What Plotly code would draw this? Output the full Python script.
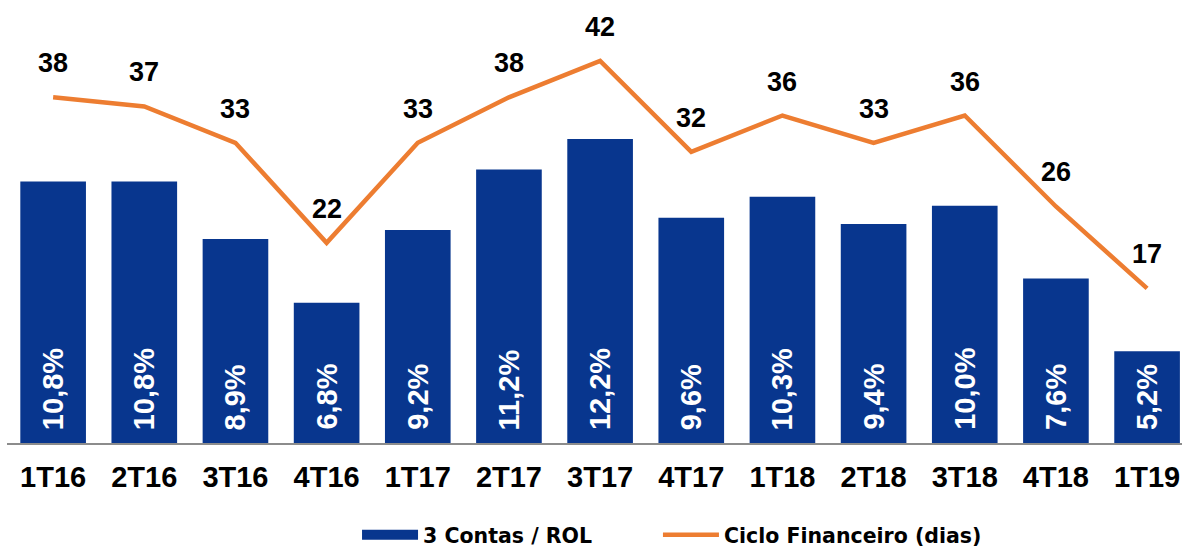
import plotly.graph_objects as go

categories = ["1T16", "2T16", "3T16", "4T16", "1T17", "2T17", "3T17", "4T17", "1T18", "2T18", "3T18", "4T18", "1T19"]
contas_rol = [10.8, 10.8, 8.9, 6.8, 9.2, 11.2, 12.2, 9.6, 10.3, 9.4, 10.0, 7.6, 5.2]
ciclo_dias = [38, 37, 33, 22, 33, 38, 42, 32, 36, 33, 36, 26, 17]

bar_labels = [f"{v:.1f}%".replace(".", ",") for v in contas_rol]

BLUE = "#08368E"
ORANGE = "#ED7D31"

fig = go.Figure()
fig.add_trace(go.Bar(
    x=categories, y=contas_rol, name="3 Contas / ROL",
    marker=dict(color=BLUE, line=dict(width=0)), showlegend=False,
))
# legend-only entry drawn as a wide block, like the reference legend key
fig.add_trace(go.Scatter(
    x=[None], y=[None], name="3 Contas / ROL", mode="lines",
    line=dict(color=BLUE, width=12), showlegend=True, legend="legend",
))
fig.add_trace(go.Scatter(
    x=categories, y=ciclo_dias, name="Ciclo Financeiro (dias)", yaxis="y2",
    mode="lines", line=dict(color=ORANGE, width=4.5), legend="legend2",
))
for c, v in zip(categories, ciclo_dias):
    fig.add_annotation(x=c, y=v, yref="y2", text=str(v), showarrow=False,
                       yshift=34, font=dict(family="Liberation Sans", size=27, color="black", weight="bold"))
for c, t in zip(categories, bar_labels):
    fig.add_annotation(x=c, y=0, yref="paper", text=t, showarrow=False, textangle=-90,
                       yanchor="bottom", yshift=11,
                       font=dict(family="Liberation Sans", size=29, color="white", weight="bold"))

legend_font = dict(family="DejaVu Sans", size=20.5, color="black", weight="bold")
fig.update_layout(
    width=1182, height=547,
    margin=dict(l=7, r=0, t=20, b=104, autoexpand=False),
    plot_bgcolor="white", paper_bgcolor="white",
    bargap=0.28,
    showlegend=True,
    legend=dict(orientation="h", x=0.2979, xanchor="left", y=-0.2175, yanchor="middle",
                font=legend_font, itemwidth=56),
    legend2=dict(orientation="h", x=0.554, xanchor="left", y=-0.2175, yanchor="middle",
                 font=legend_font, itemwidth=56),
    xaxis=dict(range=[-0.506, 12.383], showline=True, linecolor="#8C8C8C", linewidth=2,
               showgrid=False, ticks="", ticklabelstandoff=7,
               tickfont=dict(family="Liberation Sans", size=29, color="black", weight="bold")),
    yaxis=dict(range=[2.17, 16.13], visible=False, showgrid=False),
    yaxis2=dict(range=[0, 46.5], overlaying="y", side="right", visible=False, showgrid=False),
)

fig.write_html("out.html", config={"displayModeBar": False},
               post_script="document.body.style.margin='0';document.body.style.overflow='hidden';")
